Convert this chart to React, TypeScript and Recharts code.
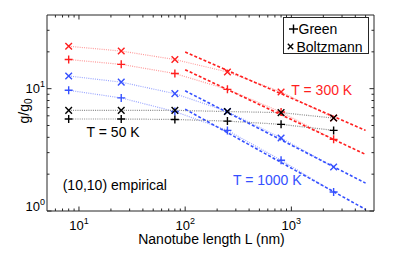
import React from "react";
import { ComposedChart, Line, XAxis, YAxis, ReferenceLine, ReferenceDot, Label } from "recharts";

const FONT = '"Liberation Sans", Arial, Helvetica, sans-serif';

// Nanotube lengths (nm)
const lengths = [8, 25, 80, 250, 800, 2500];
// g/g0 values
const red300Boltzmann = [22.2, 20.3, 17.3, 13.7, 9.4, 5.75];
const red300Green = [17.3, 15.8, 13.3, 9.87, 6.44, 3.85];
const blue1000Boltzmann = [12.7, 11.3, 9.1, 6.5, 3.95, 2.29];
const blue1000Green = [9.7, 8.4, 6.5, 4.56, 2.6, 1.43];
const black50Boltzmann = [6.65, 6.65, 6.65, 6.5, 6.37, 5.75];
const black50Green = [5.65, 5.65, 5.6, 5.43, 5.11, 4.56];

// Power-law fits (end points)
const fitLengths = [100, 5000];
const fitRedBoltzmann = [19.9, 4.56];
const fitRedGreen = [14.3, 2.9];
const fitBlueBoltzmann = [9.6, 1.69];
const fitBlueGreen = [6.8, 1.03];

const xTicks = [6, 7, 8, 9, 10, 20, 30, 40, 50, 60, 70, 80, 90, 100, 200, 300, 400, 500, 600, 700, 800, 900, 1000, 2000, 3000, 4000, 5000];
const xMajor = [10, 100, 1000];
const yTicks = [1, 2, 3, 4, 5, 6, 7, 8, 9, 10, 20, 30];
const yMajor = [1, 10];

const RED = "#ff1f1f";
const BLUE = "#3550ff";
const BLACK = "#000000";
const RED_LIGHT = "#ff9a9a";
const BLUE_LIGHT = "#9aa6ff";
const GRAY = "#8a8a8a";
const AXIS = "#262626";

const W = 398;
const H = 256;
const M = { top: 15, right: 24, left: 0, bottom: 0 };
const Y_AXIS_W = 47;
const X_AXIS_H = 45;
const PLOT_TOP = M.top;
const PLOT_RIGHT = W - M.right;

const toRows = (xs: number[], ys: number[]) => xs.map((L, i) => ({ L, g: ys[i] }));

const Plus = ({ cx, cy, color, s = 4 }: any) => (
  <path d={`M${cx - s},${cy}H${cx + s}M${cx},${cy - s}V${cy + s}`} stroke={color} strokeWidth={1.4} fill="none" />
);
const Cross = ({ cx, cy, color, s = 3.3 }: any) => (
  <path d={`M${cx - s},${cy - s}L${cx + s},${cy + s}M${cx - s},${cy + s}L${cx + s},${cy - s}`} stroke={color} strokeWidth={1.4} fill="none" />
);

const plusDot = (color: string) => (p: any) => <Plus key={`p${p.index}`} cx={p.cx} cy={p.cy} color={color} />;
const crossDot = (color: string) => (p: any) => <Cross key={`c${p.index}`} cx={p.cx} cy={p.cy} color={color} />;

const XTick = (props: any) => {
  const { x, y, payload } = props;
  const v = payload.value;
  const major = xMajor.includes(v);
  const len = major ? 4.5 : 2.5;
  const exp = Math.round(Math.log10(v));
  return (
    <g>
      <line x1={x} y1={y} x2={x} y2={y - len} stroke={AXIS} strokeWidth={1} />
      <line x1={x} y1={PLOT_TOP} x2={x} y2={PLOT_TOP + len} stroke={AXIS} strokeWidth={1} />
      {major && (
        <text x={x} y={y + 18.5} textAnchor="middle" fontFamily={FONT} fontSize={13} fill="#000">
          <tspan>10</tspan>
          <tspan dy={-6} fontSize={9}>{exp}</tspan>
        </text>
      )}
    </g>
  );
};

const YTick = (props: any) => {
  const { x, y, payload } = props;
  const v = payload.value;
  const major = yMajor.includes(v);
  const len = major ? 4.5 : 2.5;
  const exp = Math.round(Math.log10(v));
  const shift = v === 1 ? -5 : 0;
  return (
    <g>
      <line x1={x} y1={y} x2={x + len} y2={y} stroke={AXIS} strokeWidth={1} />
      <line x1={PLOT_RIGHT} y1={y} x2={PLOT_RIGHT - len} y2={y} stroke={AXIS} strokeWidth={1} />
      {major && (
        <text x={x - 2} y={y + 4.5 + shift} textAnchor="end" fontFamily={FONT} fontSize={13} fill="#000">
          <tspan>10</tspan>
          <tspan dy={-6} fontSize={9}>{exp}</tspan>
        </text>
      )}
    </g>
  );
};

const annotation = (text: string, color: string) => (p: any) => (
  <text x={p.cx} y={p.cy + 5} textAnchor="start" fontFamily={FONT} fontSize={14} fill={color}>
    {text}
  </text>
);

const Legend = () => (
  <div
    style={{
      position: "absolute",
      left: 283,
      top: 17,
      width: 86,
      height: 37,
      border: `1px solid ${AXIS}`,
      background: "#fff",
      fontFamily: FONT,
      fontSize: 14,
      color: "#000",
      boxSizing: "border-box",
    }}
  >
    <svg width={86} height={37} style={{ position: "absolute", left: -1, top: -1 }}>
      <Plus cx={10.5} cy={12} color={BLACK} s={4.5} />
      <text x={15.5} y={17} fontFamily={FONT} fontSize={14} fill="#000">Green</text>
      <Cross cx={7.5} cy={29.5} color={BLACK} s={2.7} />
      <text x={13.5} y={34.5} fontFamily={FONT} fontSize={14} fill="#000">Boltzmann</text>
    </svg>
  </div>
);

export default function App() {
  const dotted = [
    { ys: red300Boltzmann, c: RED_LIGHT },
    { ys: red300Green, c: RED_LIGHT },
    { ys: blue1000Boltzmann, c: BLUE_LIGHT },
    { ys: blue1000Green, c: BLUE_LIGHT },
    { ys: black50Boltzmann, c: GRAY },
    { ys: black50Green, c: GRAY },
  ];
  const fits = [
    { ys: fitRedBoltzmann, c: RED },
    { ys: fitRedGreen, c: RED },
    { ys: fitBlueBoltzmann, c: BLUE },
    { ys: fitBlueGreen, c: BLUE },
  ];
  const markers = [
    { ys: red300Boltzmann, dot: crossDot(RED) },
    { ys: red300Green, dot: plusDot(RED) },
    { ys: blue1000Boltzmann, dot: crossDot(BLUE) },
    { ys: blue1000Green, dot: plusDot(BLUE) },
    { ys: black50Boltzmann, dot: crossDot(BLACK) },
    { ys: black50Green, dot: plusDot(BLACK) },
  ];

  return (
    <div style={{ position: "absolute", left: 0, top: 0, width: W, height: H, background: "#fff" }}>
      <ComposedChart width={W} height={H} margin={M}>
        <XAxis
          dataKey="L"
          type="number"
          scale="log"
          domain={[5, 6000]}
          allowDataOverflow
          ticks={xTicks}
          interval={0}
          tick={<XTick />}
          tickLine={false}
          tickSize={0}
          tickMargin={0}
          height={X_AXIS_H}
          axisLine={{ stroke: AXIS }}
        >
          <Label
            content={(p: any) => (
              <text x={p.viewBox.x + p.viewBox.width / 2 + 1} y={p.viewBox.y + 33} textAnchor="middle" fontFamily={FONT} fontSize={14} fill="#000">
                Nanotube length L (nm)
              </text>
            )}
          />
        </XAxis>
        <YAxis
          type="number"
          scale="log"
          domain={[1, 40]}
          allowDataOverflow
          ticks={yTicks}
          interval={0}
          tick={<YTick />}
          tickLine={false}
          tickSize={0}
          tickMargin={0}
          width={Y_AXIS_W}
          axisLine={{ stroke: AXIS }}
        >
          <Label
            content={(p: any) => {
              const cx = 28.5;
              const cy = p.viewBox.y + p.viewBox.height / 2 - 2;
              return (
                <text x={cx} y={cy} transform={`rotate(-90 ${cx} ${cy})`} textAnchor="middle" fontFamily={FONT} fontSize={14} fill="#000">
                  g/g<tspan fontSize={10} dy={3}>0</tspan>
                </text>
              );
            }}
          />
        </YAxis>
        <ReferenceLine y={40} stroke={AXIS} strokeWidth={1} />
        <ReferenceLine x={6000} stroke={AXIS} strokeWidth={1} />

        {dotted.map((d, i) => (
          <Line
            key={`dot${i}`}
            data={toRows(lengths, d.ys)}
            dataKey="g"
            type="linear"
            stroke={d.c}
            strokeWidth={1.2}
            strokeDasharray="1 1.2"
            dot={false}
            activeDot={false}
            isAnimationActive={false}
          />
        ))}
        {fits.map((d, i) => (
          <Line
            key={`fit${i}`}
            data={toRows(fitLengths, d.ys)}
            dataKey="g"
            type="linear"
            stroke={d.c}
            strokeWidth={1.6}
            strokeDasharray="3 2"
            dot={false}
            activeDot={false}
            isAnimationActive={false}
          />
        ))}
        {markers.map((d, i) => (
          <Line
            key={`mk${i}`}
            data={toRows(lengths, d.ys)}
            dataKey="g"
            type="linear"
            stroke="none"
            strokeWidth={0}
            dot={d.dot}
            activeDot={false}
            isAnimationActive={false}
          />
        ))}

        <ReferenceDot x={1000} y={9.8} r={0} shape={annotation("T = 300 K", RED)} />
        <ReferenceDot x={11.8} y={4.42} r={0} shape={annotation("T = 50 K", BLACK)} />
        <ReferenceDot x={282} y={1.78} r={0} shape={annotation("T = 1000 K", BLUE)} />
        <ReferenceDot x={7.03} y={1.62} r={0} shape={annotation("(10,10) empirical", BLACK)} />
      </ComposedChart>
      <Legend />
    </div>
  );
}
